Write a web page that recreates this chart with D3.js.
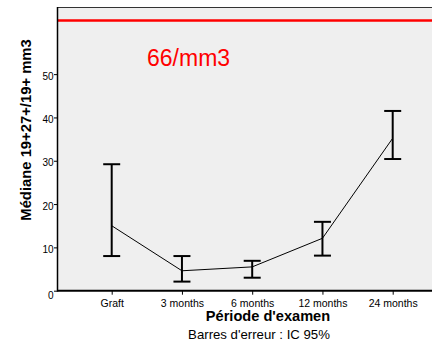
<!DOCTYPE html>
<html>
<head>
<meta charset="utf-8">
<script src="https://cdn.jsdelivr.net/npm/d3@7/dist/d3.min.js"></script>
<style>
  html, body { margin: 0; padding: 0; background: #fff; }
  svg { display: block; }
  text { font-family: "Liberation Sans", Arial, sans-serif; }
</style>
</head>
<body>
<svg id="chart" width="432" height="340"></svg>
<script>
const categories = ["Graft", "3 months", "6 months", "12 months", "24 months"];
const medians    = [15.0, 4.6, 5.5, 12.1, 35.2];
const ciLow      = [8.0, 2.1, 3.0, 8.1, 30.4];
const ciHigh     = [29.2, 8.0, 6.9, 15.9, 41.5];
const yTicks     = [0, 10, 20, 30, 40, 50];
const yMax       = 65.5;
const refValue   = 62.4;
const refLabel   = "66/mm3";
const xTitle     = "Période d'examen";
const yTitle     = "Médiane 19+27+/19+ mm3";
const note       = "Barres d'erreur : IC 95%";

const svg = d3.select("#chart");
const plot = { left: 57.5, right: 440, top: 7, bottom: 290.7 };

const x = d3.scalePoint().domain(categories).range([111.7, 392.7]);
const y = d3.scaleLinear().domain([0, yMax]).range([plot.bottom, plot.top]);

// plot background
svg.append("rect")
  .attr("x", plot.left).attr("y", plot.top)
  .attr("width", plot.right - plot.left).attr("height", plot.bottom - plot.top)
  .attr("fill", "#efefef");

// top frame line
svg.append("line")
  .attr("x1", plot.left).attr("x2", plot.right)
  .attr("y1", plot.top + 0.5).attr("y2", plot.top + 0.5)
  .attr("stroke", "#333").attr("stroke-width", 1.2);

// reference line
svg.append("line")
  .attr("x1", plot.left).attr("x2", plot.right)
  .attr("y1", y(refValue)).attr("y2", y(refValue))
  .attr("stroke", "#ff0000").attr("stroke-width", 2.6);

svg.append("text")
  .attr("x", 147).attr("y", 66)
  .attr("fill", "#ff0000")
  .attr("font-size", "23px")
  .text(refLabel);

// y axis
const yAxis = svg.append("g")
  .attr("transform", `translate(${plot.left},0)`)
  .call(d3.axisLeft(y).tickValues(yTicks).tickSize(3.5).tickPadding(0).tickFormat(d3.format("d")));
yAxis.select(".domain").remove();
yAxis.selectAll(".tick line").attr("stroke", "#000").attr("stroke-width", 1);
yAxis.selectAll(".tick text")
  .attr("font-size", "10px")
  .attr("font-family", "Liberation Sans, Arial, sans-serif")
  .attr("fill", "#000")
  .attr("dy", "0.5em")
  .attr("x", -4);
yAxis.selectAll(".tick").filter(d => d === 0).select("text").attr("dy", "0.75em");

svg.append("line")
  .attr("x1", plot.left).attr("x2", plot.left)
  .attr("y1", plot.top).attr("y2", plot.bottom + 1)
  .attr("stroke", "#000").attr("stroke-width", 1.5);

// x axis
const xAxis = svg.append("g")
  .attr("transform", `translate(0,${plot.bottom})`)
  .call(d3.axisBottom(x).tickSize(4).tickPadding(4.5));
xAxis.select(".domain").remove();
xAxis.selectAll(".tick line").attr("stroke", "#000").attr("stroke-width", 1);
xAxis.selectAll(".tick text")
  .attr("font-size", "10.5px")
  .attr("font-family", "Liberation Sans, Arial, sans-serif")
  .attr("fill", "#000");

svg.append("line")
  .attr("x1", plot.left).attr("x2", plot.right)
  .attr("y1", plot.bottom).attr("y2", plot.bottom)
  .attr("stroke", "#000").attr("stroke-width", 2);

// median line
const data = categories.map((c, i) => ({ c, m: medians[i], lo: ciLow[i], hi: ciHigh[i] }));
svg.append("path")
  .datum(data)
  .attr("fill", "none")
  .attr("stroke", "#000")
  .attr("stroke-width", 1)
  .attr("d", d3.line().x(d => x(d.c)).y(d => y(d.m)));

// error bars
const capW = 17;
const eb = svg.append("g").selectAll("g").data(data).join("g");
eb.append("line")
  .attr("x1", d => x(d.c)).attr("x2", d => x(d.c))
  .attr("y1", d => y(d.lo)).attr("y2", d => y(d.hi))
  .attr("stroke", "#000").attr("stroke-width", 2);
eb.append("line")
  .attr("x1", d => x(d.c) - capW / 2).attr("x2", d => x(d.c) + capW / 2)
  .attr("y1", d => y(d.hi)).attr("y2", d => y(d.hi))
  .attr("stroke", "#000").attr("stroke-width", 2);
eb.append("line")
  .attr("x1", d => x(d.c) - capW / 2).attr("x2", d => x(d.c) + capW / 2)
  .attr("y1", d => y(d.lo)).attr("y2", d => y(d.lo))
  .attr("stroke", "#000").attr("stroke-width", 2);

// titles
svg.append("text")
  .attr("x", 268).attr("y", 320.5)
  .attr("text-anchor", "middle")
  .attr("font-size", "14.6px").attr("font-weight", "bold")
  .text(xTitle);

svg.append("text")
  .attr("x", 259).attr("y", 338.5)
  .attr("text-anchor", "middle")
  .attr("font-size", "13.2px")
  .text(note);

svg.append("text")
  .attr("transform", "translate(30.5,130) rotate(-90)")
  .attr("text-anchor", "middle")
  .attr("font-size", "14.8px").attr("font-weight", "bold")
  .text(yTitle);
</script>
</body>
</html>
